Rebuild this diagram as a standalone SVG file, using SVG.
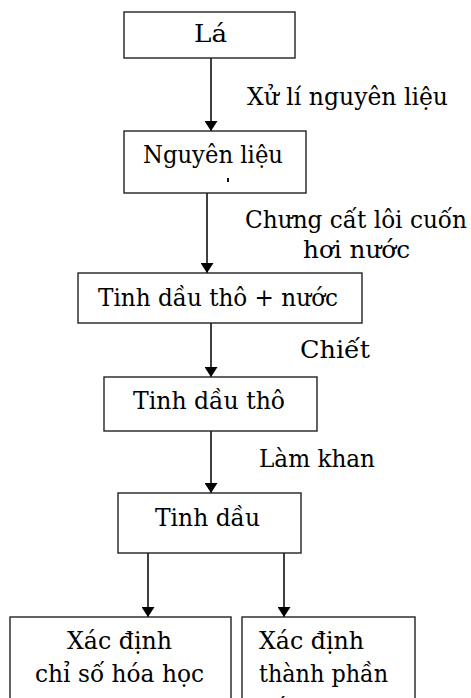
<svg xmlns="http://www.w3.org/2000/svg" width="471" height="698" viewBox="0 0 471 698">
<defs>
<marker id="ah" markerWidth="10" markerHeight="13" refX="10" refY="5" orient="auto" markerUnits="userSpaceOnUse" viewBox="0 0 10 10" preserveAspectRatio="none">
<path d="M0,0 L10,5 L0,10 Z" fill="#000"/>
</marker>
</defs>
<rect width="471" height="698" fill="#fff"/>
<g id="connectors" stroke="#000" stroke-width="1.5" fill="none">
<line x1="211" y1="58" x2="211" y2="131" marker-end="url(#ah)"/>
<line x1="207" y1="193" x2="207" y2="273" marker-end="url(#ah)"/>
<line x1="211" y1="323" x2="211" y2="377" marker-end="url(#ah)"/>
<line x1="211" y1="431" x2="211" y2="493" marker-end="url(#ah)"/>
<line x1="148" y1="553" x2="148" y2="617" marker-end="url(#ah)"/>
<line x1="284" y1="553" x2="284" y2="617" marker-end="url(#ah)"/>
</g>
<g id="labels" fill="#000">
<text font-family="DejaVu Serif, Liberation Serif, serif" font-size="24" x="247" y="105" textLength="201" lengthAdjust="spacingAndGlyphs">Xử lí nguyên liệu</text>
<text font-family="DejaVu Serif, Liberation Serif, serif" font-size="24" x="245" y="228" textLength="222" lengthAdjust="spacingAndGlyphs">Chưng cất lôi cuốn</text>
<text font-family="DejaVu Serif, Liberation Serif, serif" font-size="24" x="303" y="258" textLength="107" lengthAdjust="spacingAndGlyphs">hơi nước</text>
<text font-family="DejaVu Serif, Liberation Serif, serif" font-size="24" x="300" y="358" textLength="70" lengthAdjust="spacingAndGlyphs">Chiết</text>
<text font-family="DejaVu Serif, Liberation Serif, serif" font-size="24" x="259" y="467" textLength="116" lengthAdjust="spacingAndGlyphs">Làm khan</text>
</g>
<g id="nodes" fill="#fff" stroke="#222" stroke-width="1.4">
<g id="n-la">
<rect x="124" y="12" width="171" height="46"/>
<text fill="#000" stroke="none" font-family="DejaVu Serif, Liberation Serif, serif" font-size="24" x="194" y="42" textLength="33" lengthAdjust="spacingAndGlyphs">Lá</text>
</g>
<g id="n-nguyenlieu">
<rect x="124" y="131" width="182" height="62"/>
<text fill="#000" stroke="none" font-family="DejaVu Serif, Liberation Serif, serif" font-size="24" x="143" y="163" textLength="140" lengthAdjust="spacingAndGlyphs">Nguyên liệu</text>
<rect x="227" y="178" width="2" height="4" fill="#111" stroke="none"/>
</g>
<g id="n-tinhdauthonuoc">
<rect x="78" y="273" width="284" height="50"/>
<text fill="#000" stroke="none" font-family="DejaVu Serif, Liberation Serif, serif" font-size="24" x="98" y="306" textLength="240" lengthAdjust="spacingAndGlyphs">Tinh  dầu thô + nước</text>
</g>
<g id="n-tinhdautho">
<rect x="104" y="377" width="213" height="54"/>
<text fill="#000" stroke="none" font-family="DejaVu Serif, Liberation Serif, serif" font-size="24" x="133" y="409" textLength="152" lengthAdjust="spacingAndGlyphs">Tinh  dầu thô</text>
</g>
<g id="n-tinhdau">
<rect x="118" y="493" width="183" height="60"/>
<text fill="#000" stroke="none" font-family="DejaVu Serif, Liberation Serif, serif" font-size="24" x="155" y="526" textLength="105" lengthAdjust="spacingAndGlyphs">Tinh  dầu</text>
</g>
<g id="n-chiso">
<rect x="10" y="617" width="221" height="110"/>
<text fill="#000" stroke="none" font-family="DejaVu Serif, Liberation Serif, serif" font-size="24" x="67" y="649" textLength="105" lengthAdjust="spacingAndGlyphs">Xác định</text>
<text fill="#000" stroke="none" font-family="DejaVu Serif, Liberation Serif, serif" font-size="24" x="35" y="682" textLength="169" lengthAdjust="spacingAndGlyphs">chỉ  số hóa học</text>
</g>
<g id="n-thanhphan">
<rect x="242" y="617" width="173" height="110"/>
<text fill="#000" stroke="none" font-family="DejaVu Serif, Liberation Serif, serif" font-size="24" x="259" y="649" textLength="105" lengthAdjust="spacingAndGlyphs">Xác định</text>
<text fill="#000" stroke="none" font-family="DejaVu Serif, Liberation Serif, serif" font-size="24" x="259" y="682" textLength="129" lengthAdjust="spacingAndGlyphs">thành phần</text>
<text fill="#000" stroke="none" font-family="DejaVu Serif, Liberation Serif, serif" font-size="24" x="259" y="716" textLength="92" lengthAdjust="spacingAndGlyphs">hóa học</text>
</g>
</g>
</svg>
